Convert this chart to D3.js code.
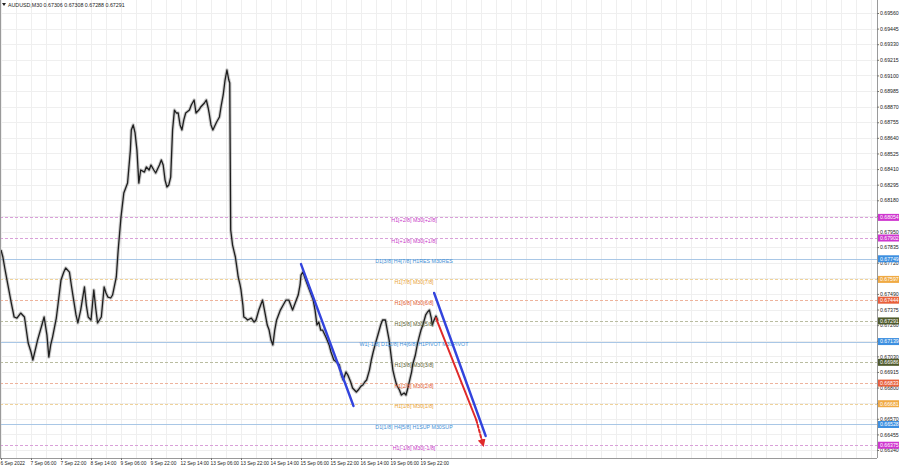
<!DOCTYPE html>
<html><head><meta charset="utf-8">
<script src="https://cdn.jsdelivr.net/npm/d3@7"></script>
<style>
html,body{margin:0;padding:0;background:#fff;}
svg{display:block;font-family:"Liberation Sans",Arial,sans-serif;}
</style></head>
<body><svg id="c" width="900" height="468"></svg>
<script>
// ---- data ----
const symbolTitle = "AUDUSD,M30  0.67306 0.67308 0.67288 0.67291";
const barIndex = [0,2,4,7,11,14,17,21,25,27,29,32,34,37,39,43,46,49,51,53,55,59,61,64,67,69,73,75,77,80,82,85,89,91,93,96,99,101,103,107,110,112,114,117,119,123,125,128,131,133,135,138,139,141,143,145,147,149,153,155,158,160,163,165,169,171,173,175,177,179,181,183,185,187,189,191,193,195,197,201,203,206,208,211,213,217,219,221,222,224,226,228,230,233,235,237,239,241,243,244,245,247,250,252,253,255,256,258,259,261,263,267,270,272,275,277,279,282,284,286,288,290,292,294,298,301,304,307,309,311,315,317,319,320,322,325,329,331,333,335,337,339,341,343,347,350,352,355,358,361,363,365,368,370,373,375,379,381,384,386,388,390,393,395,397,399,402,405,407,410,412,414,416,418,420,422,425,427,430,432,434,436,438,439,442,444,446,448,450,453,455,457,459,460,462,464,466];
const closePrice = [0.67814,0.67762,0.67681,0.67570,0.67423,0.67320,0.67312,0.67349,0.67320,0.67224,0.67128,0.67062,0.67003,0.67091,0.67150,0.67246,0.67320,0.67187,0.67025,0.67114,0.67172,0.67312,0.67423,0.67593,0.67651,0.67681,0.67651,0.67556,0.67467,0.67335,0.67276,0.67371,0.67541,0.67408,0.67320,0.67298,0.67519,0.67386,0.67276,0.67320,0.67541,0.67497,0.67467,0.67460,0.67482,0.67615,0.67814,0.68057,0.68234,0.68270,0.68307,0.68550,0.68698,0.68735,0.68676,0.68550,0.68307,0.68403,0.68388,0.68425,0.68403,0.68440,0.68403,0.68381,0.68440,0.68477,0.68440,0.68329,0.68278,0.68293,0.68351,0.68698,0.68845,0.68823,0.68823,0.68735,0.68698,0.68772,0.68823,0.68845,0.68882,0.68919,0.68823,0.68845,0.68867,0.68897,0.68919,0.68860,0.68823,0.68735,0.68698,0.68727,0.68757,0.68794,0.68882,0.68956,0.69066,0.69140,0.69066,0.69044,0.67961,0.67850,0.67762,0.67666,0.67615,0.67556,0.67519,0.67408,0.67320,0.67312,0.67298,0.67312,0.67283,0.67298,0.67371,0.67408,0.67445,0.67335,0.67261,0.67224,0.67150,0.67114,0.67224,0.67298,0.67371,0.67408,0.67445,0.67445,0.67408,0.67371,0.67445,0.67482,0.67556,0.67629,0.67651,0.67593,0.67519,0.67482,0.67445,0.67371,0.67261,0.67283,0.67224,0.67224,0.67165,0.67114,0.67062,0.67003,0.66988,0.66966,0.66892,0.66856,0.66915,0.66892,0.66841,0.66797,0.66767,0.66782,0.66811,0.66819,0.66841,0.66856,0.66929,0.67003,0.67062,0.67114,0.67187,0.67261,0.67298,0.67298,0.67224,0.67150,0.67040,0.66929,0.66870,0.66819,0.66782,0.66745,0.66760,0.66745,0.66797,0.66856,0.66915,0.66966,0.67040,0.67114,0.67172,0.67224,0.67261,0.67335,0.67357,0.67371,0.67312,0.67261,0.67298,0.67327,0.67291];

const timeLabels = ["6 Sep 2022","7 Sep 06:00","7 Sep 22:00","8 Sep 14:00","9 Sep 06:00","9 Sep 22:00","12 Sep 14:00","13 Sep 06:00","13 Sep 22:00","14 Sep 14:00","15 Sep 06:00","15 Sep 22:00","16 Sep 14:00","19 Sep 06:00","19 Sep 22:00"];
const barsPerLabel = 32;

const priceTicks = [0.66340,0.66455,0.66570,0.66685,0.66800,0.66915,0.67030,0.67145,0.67260,0.67375,0.67490,0.67605,0.67720,0.67835,0.67950,0.68065,0.68180,0.68295,0.68410,0.68525,0.68640,0.68755,0.68870,0.68985,0.69100,0.69215,0.69330,0.69445,0.69560];

const levelPrices = [0.68054,0.67902,0.67749,0.67597,0.67444,0.67291,0.67139,0.66986,0.66833,0.66681,0.66528,0.66375];
const levelNames = ["H1[+2/8] M30[+2/8]","H1[+1/8] M30[+1/8]","D1[3/8] H4[7/8] H1RES M30RES","H1[7/8] M30[7/8]","H1[6/8] M30[6/8]","H1[5/8] M30[5/8]","W1[-1/8] D1[2/8] H4[6/8] H1PIVOT M30PIVOT","H1[3/8] M30[3/8]","H1[2/8] M30[2/8]","H1[1/8] M30[1/8]","D1[1/8] H4[5/8] H1SUP M30SUP","H1[-1/8] M30[-1/8]"];
const levelKinds = ["mag","mag","blue","orange","red","olive","blue","olive","red","orange","blue","mag"];

// trend lines: [startBar, startPrice, endBar, endPrice]
const blueLine1 = [320,0.67710,376,0.66664];
const blueLine2 = [462,0.67497,517,0.66443];
const redSolid = [464,0.67312,507,0.66561];
const redDashed = [507,0.66561,514,0.66384];

// ---- styles ----
const kindText = {mag:"#c838c8", blue:"#3f8fd6", orange:"#e9a23a", red:"#e2592f", olive:"#5d6336"};
const kindLine = {mag:"#d9a0d9", blue:"#a9c7e6", orange:"#efd29a", red:"#eeb39c", olive:"#b9bca0"};
const kindBox  = {mag:"#cf36cf", blue:"#3d8fe0", orange:"#f0aa44", red:"#e8603c", olive:"#4f5a2c"};

const svg = d3.select("#c");
const plotRight = 877, plotBottom = 458;
const barW = 0.9375;
const maxBar = Math.ceil((plotRight-1)/barW);
const x = d3.scaleLinear().domain([0, maxBar]).range([1, 1 + maxBar*barW]);
const y = d3.scaleLinear().domain([0.66340, 0.69560]).range([450, 13]);

const defs = svg.append("defs");
defs.append("clipPath").attr("id","plot").append("rect").attr("x",0).attr("y",0).attr("width",plotRight).attr("height",plotBottom);
defs.append("marker").attr("id","arrow").attr("viewBox","0 0 10 10").attr("refX",6).attr("refY",5)
  .attr("markerWidth",4).attr("markerHeight",4).attr("orient","auto")
  .append("path").attr("d","M0,0 L10,5 L0,10 z").attr("fill","#e02a2a");

// grid
const g = svg.append("g").attr("clip-path","url(#plot)");
const vgrid = d3.range(0, maxBar, barsPerLabel/2);
g.selectAll(".vg").data(vgrid).enter().append("line")
  .attr("x1",d=>Math.round(x(d))+0.5).attr("x2",d=>Math.round(x(d))+0.5)
  .attr("y1",0).attr("y2",plotBottom).attr("stroke","#efefef").attr("stroke-width",1);
g.selectAll(".hg").data(priceTicks).enter().append("line")
  .attr("x1",0).attr("x2",plotRight)
  .attr("y1",d=>Math.round(y(d))+0.5).attr("y2",d=>Math.round(y(d))+0.5)
  .attr("stroke","#efefef").attr("stroke-width",1);

// level lines
const levels = levelPrices.map((p,i)=>({p, name:levelNames[i], kind:levelKinds[i]}));
g.selectAll(".lv").data(levels).enter().append("line")
  .attr("x1",0).attr("x2",plotRight)
  .attr("y1",d=>Math.round(y(d.p))+0.5).attr("y2",d=>Math.round(y(d.p))+0.5)
  .attr("stroke",d=>kindLine[d.kind]).attr("stroke-width",1)
  .attr("stroke-dasharray",d=>d.kind==="blue"?null:"3,2");

// price series
const pts = barIndex.map((b,i)=>[x(b), y(closePrice[i])]);
const line = d3.line();
g.append("path").attr("d",line(pts)).attr("fill","none").attr("stroke","#9a9a9a").attr("stroke-width",3.4).attr("stroke-opacity",0.5).attr("stroke-linejoin","round");
g.append("path").attr("d",line(pts)).attr("fill","none").attr("stroke","#1e1e1e").attr("stroke-width",1.3).attr("stroke-linejoin","round");

// level texts
g.selectAll(".lt").data(levels).enter().append("text")
  .attr("x",414).attr("y",d=>y(d.p)+4.6).attr("text-anchor","middle")
  .attr("font-size",5.3).attr("fill",d=>kindText[d.kind]).text(d=>d.name);

// trend lines
function seg(a, color, w, dash, marker){
  const p = g.append("line").attr("x1",x(a[0])).attr("y1",y(a[1])).attr("x2",x(a[2])).attr("y2",y(a[3]))
    .attr("stroke",color).attr("stroke-width",w).attr("stroke-linecap","round");
  if(dash) p.attr("stroke-dasharray",dash);
  if(marker) p.attr("marker-end","url(#arrow)");
}
seg(blueLine1,"#3344dd",2.4);
seg(blueLine2,"#3344dd",2.4);
seg(redSolid,"#e02a2a",2);
seg(redDashed,"#e02a2a",2,"3,2",true);

// frame
svg.append("line").attr("x1",0.5).attr("x2",0.5).attr("y1",0).attr("y2",plotBottom).attr("stroke","#9a9a9a");
svg.append("line").attr("x1",plotRight+0.5).attr("x2",plotRight+0.5).attr("y1",0).attr("y2",plotBottom).attr("stroke","#9a9a9a");
svg.append("line").attr("x1",0).attr("x2",plotRight).attr("y1",plotBottom+0.5).attr("y2",plotBottom+0.5).attr("stroke","#9a9a9a");

// right axis
const ra = svg.append("g").attr("transform",`translate(${plotRight},0)`);
const yAxis = d3.axisRight(y).tickValues(priceTicks).tickSize(2).tickFormat(d3.format(".5f"));
ra.call(yAxis);
ra.select(".domain").remove();
ra.selectAll(".tick line").attr("stroke","#777");
ra.selectAll(".tick text").attr("font-size",5.2).attr("fill","#222").attr("x",3).attr("font-family","Liberation Sans, Arial, sans-serif");

// coloured level boxes
const boxes = svg.append("g");
boxes.selectAll("rect").data(levels).enter().append("rect")
  .attr("x",plotRight+1).attr("y",d=>y(d.p)-3.5).attr("width",21).attr("height",7)
  .attr("fill",d=>kindBox[d.kind]);
boxes.selectAll("text").data(levels).enter().append("text")
  .attr("x",plotRight+3).attr("y",d=>y(d.p)+1.9).attr("font-size",5.2).attr("fill","#fff")
  .text(d=>d3.format(".5f")(d.p));

// bottom axis
const labelBars = timeLabels.map((t,i)=>i*barsPerLabel);
const xa = svg.append("g").attr("transform",`translate(0,${plotBottom})`);
const xAxis = d3.axisBottom(x).tickValues(labelBars).tickSize(2).tickFormat((d,i)=>timeLabels[i]);
xa.call(xAxis);
xa.select(".domain").remove();
xa.selectAll(".tick line").attr("stroke","#777");
xa.selectAll(".tick text").attr("font-size",4.8).attr("fill","#222").attr("text-anchor","start").attr("dx",-1).attr("y",4)
  .attr("font-family","Liberation Sans, Arial, sans-serif");

// title
svg.append("path").attr("d","M2,3 L6,3 L4,6 Z").attr("fill","#222");
svg.append("text").attr("x",8).attr("y",7).attr("font-size",5.3).attr("fill","#222").text(symbolTitle);
</script></body></html>
